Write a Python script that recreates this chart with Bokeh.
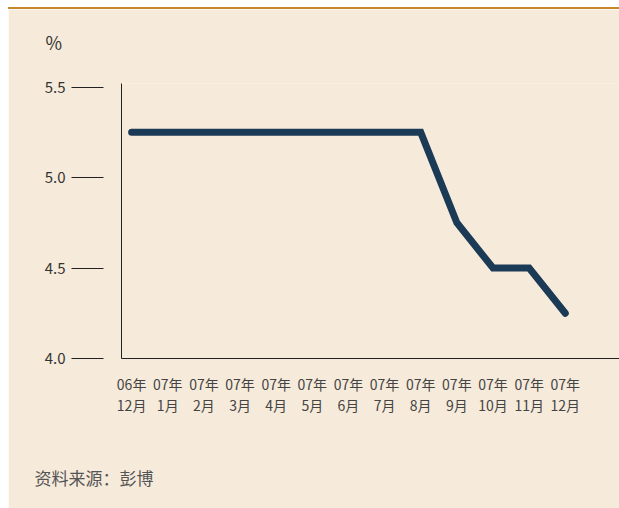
from bokeh.plotting import figure
from bokeh.models import Range1d, FixedTicker, Title, Div
from bokeh.layouts import column
from bokeh.embed import file_html
from bokeh.resources import INLINE

# data
years = ["06年", "07年", "07年", "07年", "07年", "07年", "07年", "07年", "07年", "07年", "07年", "07年", "07年"]
months = ["12月", "1月", "2月", "3月", "4月", "5月", "6月", "7月", "8月", "9月", "10月", "11月", "12月"]
rates = [5.25, 5.25, 5.25, 5.25, 5.25, 5.25, 5.25, 5.25, 5.25, 4.75, 4.5, 4.5, 4.25]
y_ticks = [4.0, 4.5, 5.0, 5.5]

BG = "#f6eadb"
FONT = "Noto Sans CJK SC"
xs = list(range(len(rates)))

p = figure(width=611, height=499, output_backend="svg", toolbar_location=None,
           x_range=Range1d(-0.28, 13.5), y_range=Range1d(4.0, 5.52),
           min_border_left=113, min_border_right=0, min_border_top=74, min_border_bottom=150,
           margin=0)
p.background_fill_color = BG
p.border_fill_color = BG
p.outline_line_color = None
p.grid.visible = False

p.line(xs, rates, line_color="#1b3a56", line_width=7, line_cap="round", line_join="miter")

ya = p.yaxis[0]
ya.ticker = FixedTicker(ticks=y_ticks)
ya.major_tick_out = 50
ya.major_tick_in = -18
ya.minor_tick_line_color = None
ya.axis_line_color = "#222222"
ya.major_tick_line_color = "#222222"
ya.major_label_standoff = 6
ya.major_label_text_font = FONT
ya.major_label_text_font_size = "15px"
ya.major_label_text_color = "#333333"
ya.major_label_overrides = {t: f"{t:.1f}" for t in y_ticks}

xa = p.xaxis[0]
xa.ticker = FixedTicker(ticks=xs)
xa.major_label_overrides = {i: f"{years[i]}\n{months[i]}" for i in xs}
xa.major_tick_line_color = None
xa.minor_tick_line_color = None
xa.axis_line_color = "#222222"
xa.major_label_standoff = 9
xa.major_label_text_font = FONT
xa.major_label_text_font_size = "14px"
xa.major_label_text_color = "#444444"
xa.major_label_text_line_height = 1.05

# spacer between the frame and the unit label
p.add_layout(Title(text=" ", standoff=21, text_font_size="1px"), "above")
p.add_layout(Title(text="%", align="left", offset=-76, standoff=10,
                   text_font=FONT, text_font_size="18px", text_color="#333333",
                   text_font_style="normal"), "above")
# spacer between the axis labels and the source note
p.add_layout(Title(text=" ", standoff=23, text_font_size="1px"), "below")
p.add_layout(Title(text="资料来源：彭博", align="left", offset=-87, standoff=38,
                   text_font=FONT, text_font_size="17px", text_color="#555555",
                   text_font_style="normal"), "below")

top = Div(width=611, height=2, margin=0, styles={"background-color": "#c8862a"})
layout = column(top, p, spacing=0, margin=(7, 0, 0, 8))

open("out.html", "w").write(file_html(layout, INLINE))
